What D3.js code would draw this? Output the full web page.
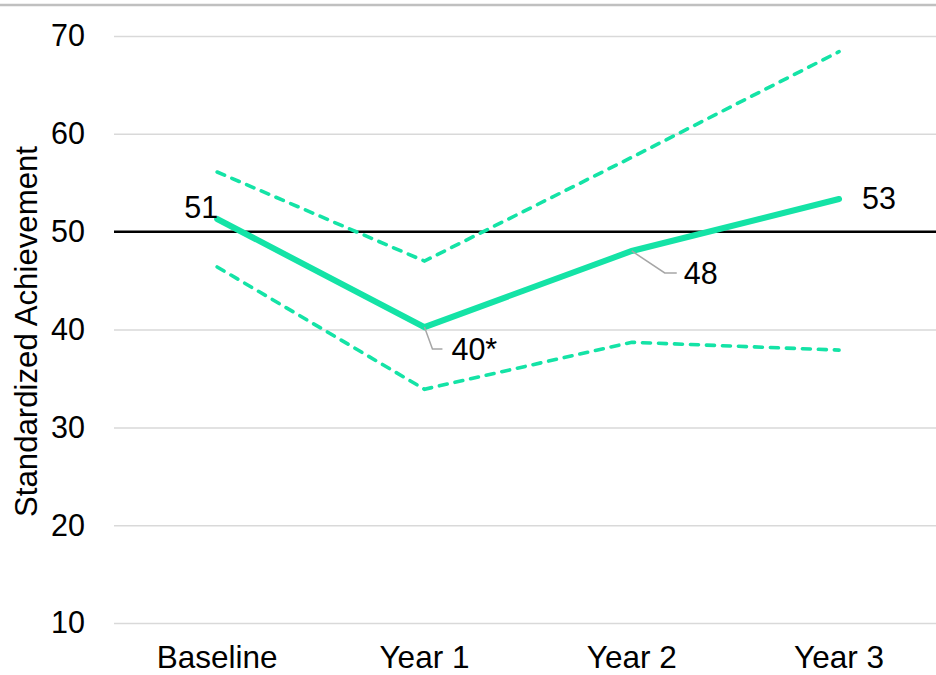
<!DOCTYPE html>
<html>
<head>
<meta charset="utf-8">
<script src="https://cdn.jsdelivr.net/npm/d3@7"></script>
<style>
  html, body { margin: 0; padding: 0; background: #fff; }
  svg { display: block; font-family: "Liberation Sans", Arial, sans-serif; }
</style>
</head>
<body>
<svg id="chart" width="936" height="675"></svg>
<script>
const categories = ["Baseline", "Year 1", "Year 2", "Year 3"];
const estimate = [51.3, 40.25, 48.03, 53.34];
const upperBound = [56.1, 47.0, 57.6, 68.4];
const lowerBound = [46.4, 33.9, 38.7, 37.9];
const pointLabels = ["51", "40*", "48", "53"];
const yTicks = [10, 20, 30, 40, 50, 60, 70];
const referenceValue = 50;
const yTitle = "Standardized Achievement";

const W = 936, H = 675;
const color = "#14e3a6";
const FS = 30.5;
const svg = d3.select("#chart");

const x = d3.scaleBand().domain(categories).range([113.5, 942.7]).padding(0);
const cx = c => x(c) + x.bandwidth() / 2;
const y = d3.scaleLinear().domain([10, 70]).range([623.1, 36.0]);

// top border
svg.append("line").attr("x1", 0).attr("x2", W).attr("y1", 5).attr("y2", 5)
  .attr("stroke", "#c0c0c0").attr("stroke-width", 2.5);

// gridlines via axis
const yAxis = d3.axisLeft(y).tickValues(yTicks).tickSize(-(W - 114)).tickPadding(29).tickFormat(d3.format("d"));
const gAxis = svg.append("g").attr("transform", "translate(114,0)").call(yAxis);
gAxis.select(".domain").remove();
gAxis.selectAll(".tick line").attr("stroke", "#d9d9d9").attr("stroke-width", 1.5);
gAxis.selectAll(".tick text").attr("font-size", FS).attr("fill", "#000")
  .attr("font-family", "'Liberation Sans', Arial, sans-serif");

// reference line at 50
svg.append("line").attr("x1", 114).attr("x2", W)
  .attr("y1", y(referenceValue)).attr("y2", y(referenceValue))
  .attr("stroke", "#000").attr("stroke-width", 2.5);

// x axis labels
const xAxis = d3.axisBottom(x).tickSize(0).tickPadding(0);
const gx = svg.append("g").attr("transform", "translate(0,640)").call(xAxis);
gx.select(".domain").remove();
gx.selectAll(".tick text").attr("font-size", 31.5).attr("fill", "#000")
  .attr("dy", "0.9em")
  .attr("font-family", "'Liberation Sans', Arial, sans-serif");

// y title
svg.append("text")
  .attr("transform", `translate(37,${(145 + 518) / 2}) rotate(-90)`)
  .attr("text-anchor", "middle")
  .attr("font-size", 31.2)
  .text(yTitle);

const line = d3.line().x((d, i) => cx(categories[i])).y(d => y(d));

[upperBound, lowerBound].forEach(arr => {
  svg.append("path").datum(arr).attr("d", line)
    .attr("fill", "none").attr("stroke", color).attr("stroke-width", 3.6)
    .attr("stroke-dasharray", "8,8").attr("stroke-linecap", "round");
});

svg.append("path").datum(estimate).attr("d", line)
  .attr("fill", "none").attr("stroke", color).attr("stroke-width", 6)
  .attr("stroke-linecap", "round").attr("stroke-linejoin", "miter");

// data labels
const lbl = (txt, px, py, anchor) => svg.append("text").attr("x", px).attr("y", py)
  .attr("text-anchor", anchor).attr("font-size", FS).attr("fill", "#000").text(txt);

// 51
lbl(pointLabels[0], cx(categories[0]) + 1, y(estimate[0]) - 1, "end");

// 40* with leader
{
  const px = cx(categories[1]), py = y(estimate[1]);
  svg.append("polyline")
    .attr("points", `${px},${py} ${px + 8},${py + 22} ${px + 18},${py + 22}`)
    .attr("fill", "none").attr("stroke", "#a6a6a6").attr("stroke-width", 1.5);
  lbl(pointLabels[1], px + 27, py + 33, "start");
}
// 48 with leader
{
  const px = cx(categories[2]), py = y(estimate[2]);
  svg.append("polyline")
    .attr("points", `${px},${py} ${px + 33},${py + 22} ${px + 45},${py + 22}`)
    .attr("fill", "none").attr("stroke", "#a6a6a6").attr("stroke-width", 1.5);
  lbl(pointLabels[2], px + 52, py + 33, "start");
}
// 53
lbl(pointLabels[3], cx(categories[3]) + 23, y(estimate[3]) + 10, "start");
</script>
</body>
</html>
